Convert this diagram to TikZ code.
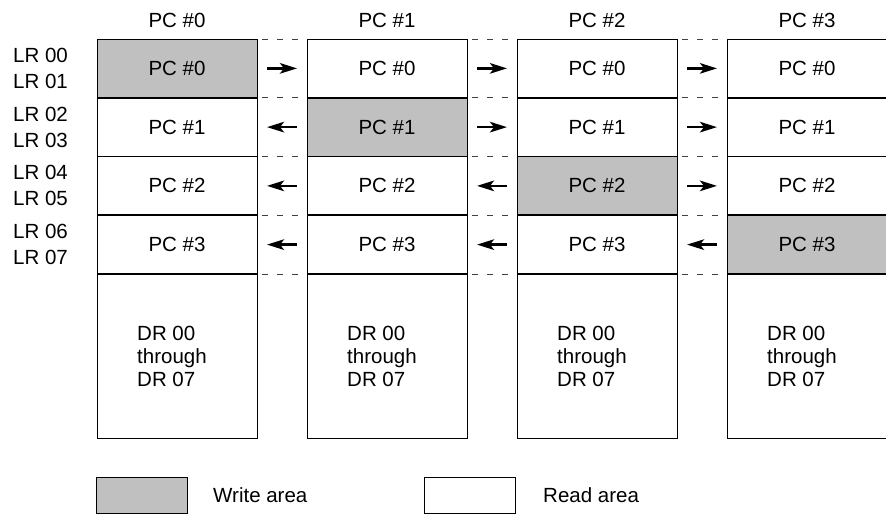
\documentclass[tikz,border=0pt]{standalone}
\usepackage{fontspec}
\setmainfont{Liberation Sans}
\usetikzlibrary{arrows.meta}
\definecolor{areagray}{RGB}{192,192,192}
\tikzset{
  cell/.style={draw, line width=0.9pt, minimum width=160pt, minimum height=58.75pt, inner sep=0pt, outer sep=0pt},
  sepline/.style={line width=1.7pt},
  gapline/.style={line width=0.9pt, draw=black!75, dash pattern=on 6pt off 9pt, dash phase=10pt},
  xfer/.style={line width=2.6pt, -{Stealth[length=17pt,width=10.5pt,inset=4pt]}, shorten <=10pt, shorten >=10pt},
  lbl/.style={inner sep=0pt}
}
\begin{document}
\begin{tikzpicture}[x=1pt, y=-1pt, font=\fontsize{20.5}{23}\selectfont]
  \useasboundingbox (0,0) rectangle (886,514);
  % one column per PC
  \foreach \c in {0,...,3}
  {
    \node[lbl] (head\c) at ({177+210*\c},20) {PC \#\c};
    \foreach \r in {0,...,3}
    {
      \ifnum\r=\c \def\cellfill{areagray}\else \def\cellfill{white}\fi
      \node[cell, fill=\cellfill] (cell\c\r) at ({177+210*\c},{68.375+58.75*\r}) {PC \#\r};
    }
    \node[cell, minimum height=164.5pt] (dr\c) at ({177+210*\c},356.25) {};
    \node[lbl, anchor=west, align=left] (drtext\c) at ([xshift=40pt]dr\c.west) {DR 00\\through\\DR 07};
    \foreach \r in {0,...,3}
      \draw[sepline] (cell\c\r.south west) -- (cell\c\r.south east);
  }
  % link words
  \foreach \r/\a/\b in {0/00/01, 1/02/03, 2/04/05, 3/06/07}
  {
    \node[lbl, anchor=west] (lr\a) at (13,{68.375+58.75*\r-13}) {LR \a};
    \node[lbl, anchor=west] (lr\b) at (13,{68.375+58.75*\r+13}) {LR \b};
  }
  % gaps between the PCs
  \foreach \g/\n in {0/1, 1/2, 2/3}
  {
    \draw[gapline] (cell\g0.north east) -- (cell\n0.north west);
    \foreach \r in {0,...,3}
    {
      \draw[gapline] (cell\g\r.south east) -- (cell\n\r.south west);
      \ifnum\r>\g
        \draw[xfer] (cell\n\r.west) -- (cell\g\r.east);
      \else
        \draw[xfer] (cell\g\r.east) -- (cell\n\r.west);
      \fi
    }
  }
  % legend
  \node[cell, fill=areagray, minimum width=91pt, minimum height=36pt] (writekey) at (141.5,495) {};
  \node[lbl, anchor=west] (writetext) at ([xshift=26pt]writekey.east) {Write area};
  \node[cell, minimum width=91pt, minimum height=36pt] (readkey) at (469.5,495) {};
  \node[lbl, anchor=west] (readtext) at ([xshift=28pt]readkey.east) {Read area};
\end{tikzpicture}
\end{document}
